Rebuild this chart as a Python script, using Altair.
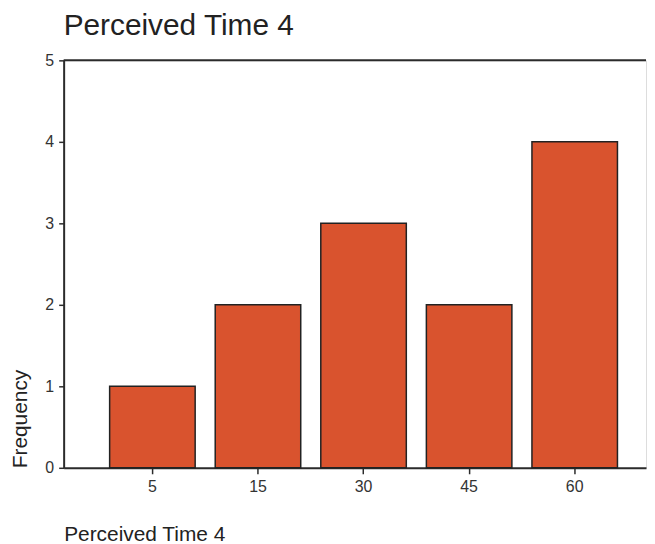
import altair as alt
import pandas as pd

categories = ["5", "15", "30", "45", "60"]
frequency = [1, 2, 3, 2, 4]

df = pd.DataFrame({"time": categories, "freq": frequency})
top = pd.DataFrame({"y": [5]})

FONT = "Liberation Sans"
AX = "#2b2b2b"

bars = alt.Chart(df).mark_bar(
    color="#d9532e", stroke="#222222", strokeWidth=1.5
).encode(
    x=alt.X("time:N", sort=categories,
            scale=alt.Scale(paddingInner=0.19, paddingOuter=0.353, align=0.617),
            axis=alt.Axis(title="Perceived Time 4", labelAngle=0, titleAnchor="start",
                          titleAlign="left", titlePadding=29, titleFontSize=21,
                          titleFontWeight="normal", labelFontSize=16, labelPadding=5,
                          tickSize=6, domainWidth=2, tickWidth=1.5,
                          domainColor=AX, tickColor=AX, labelColor="#333",
                          titleColor="#222", labelFont=FONT, titleFont=FONT)),
    y=alt.Y("freq:Q", scale=alt.Scale(domain=[0, 5], nice=False),
            axis=alt.Axis(title="Frequency", values=[0, 1, 2, 3, 4, 5], format="d",
                          titleAnchor="start", titleFontSize=21, titleFontWeight="normal",
                          labelFontSize=16, tickSize=5, grid=False, domainWidth=2,
                          tickWidth=1.5, domainColor=AX, tickColor=AX, labelColor="#333",
                          titleColor="#222", titlePadding=14, labelPadding=5,
                          labelFont=FONT, titleFont=FONT)),
)

rule = alt.Chart(top).mark_rule(color=AX, strokeWidth=2).encode(y="y:Q")

chart = alt.layer(bars, rule).properties(
    width=586, height=410,
    padding={"left": 2, "top": 1, "right": 0, "bottom": 0},
    title=alt.TitleParams("Perceived Time 4", anchor="start", frame="group", fontSize=30,
                          font=FONT, fontWeight="normal", color="#222", offset=12),
).configure_view(stroke=None).configure(background="white")

chart.save("out.html", embed_options={"renderer": "svg", "actions": False})
